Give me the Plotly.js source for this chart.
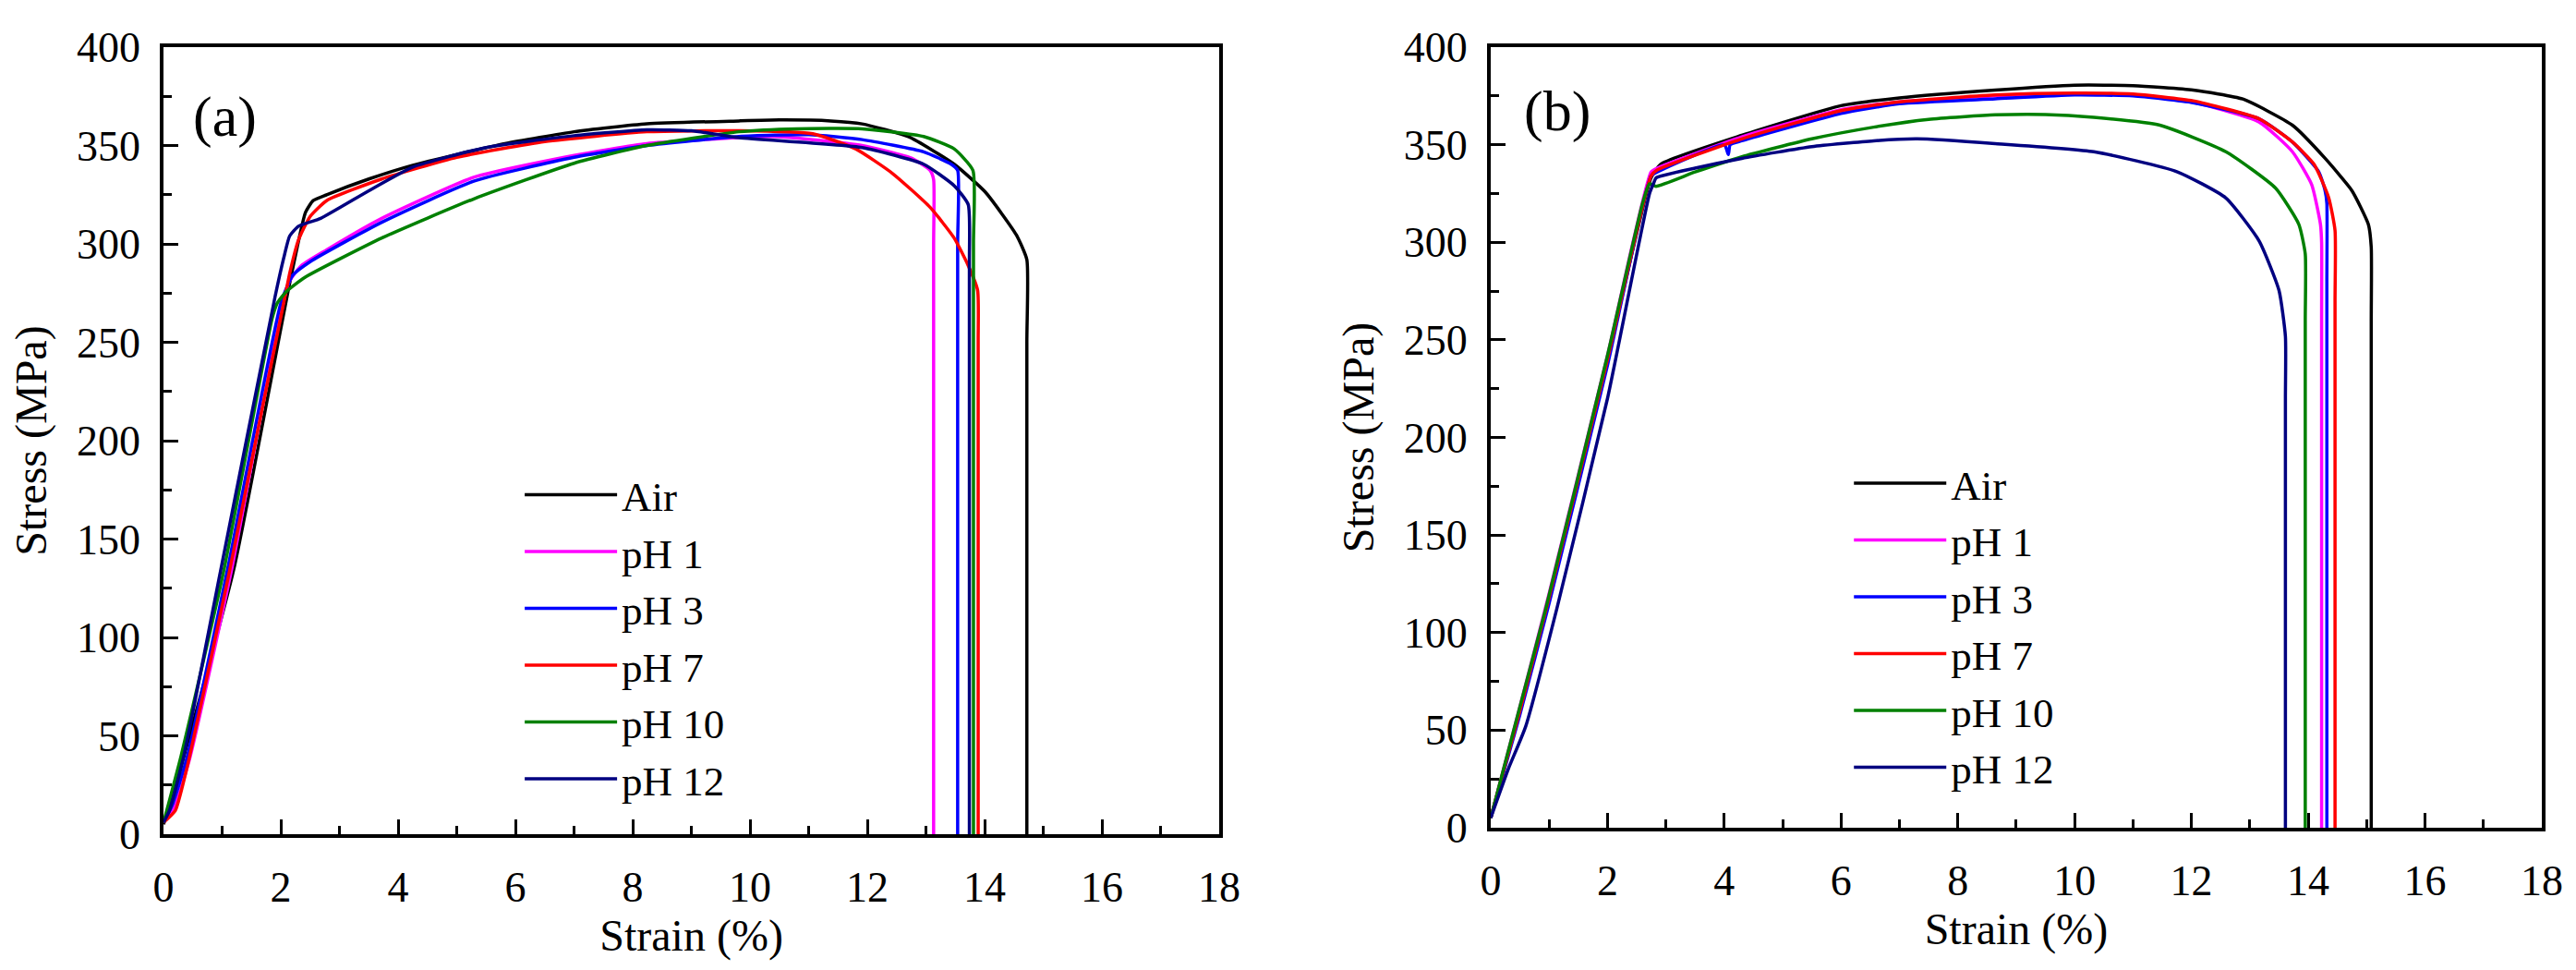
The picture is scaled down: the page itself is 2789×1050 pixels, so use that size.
<!DOCTYPE html>
<html>
<head>
<meta charset="utf-8">
<script src="https://cdn.plot.ly/plotly-3.0.1.min.js"></script>
<style>
  body { margin: 0; background: #fff; }
  #chart { width: 2789px; height: 1050px; position: relative; z-index: 1; }
  #fontwarm { position: absolute; left: 1400px; top: 500px; z-index: 0; color: #fff;
              font-family: 'Liberation Serif'; font-size: 46px; }
</style>
</head>
<body>
<div id="fontwarm">.</div>
<div id="chart"></div>
<script>
// series names and colours
var names = ['Air', 'pH 1', 'pH 3', 'pH 7', 'pH 10', 'pH 12'];
var colors = ['#000000', '#ff00ff', '#0000ff', '#ff0000', '#008000', '#000080'];

// panel (a): strain (%) and stress (MPa)
var aAirX = [0, 0.35, 1.2, 2.15, 2.42, 2.55, 2.78, 3.5, 4.25, 5.82, 7, 8.24, 9.81, 10.5, 11.38, 11.91, 12.7, 13.48, 14.01, 14.54, 14.72, 14.72, 14.72];
var aAirY = [5, 40, 135, 280, 316, 322, 325, 333, 340, 351, 357, 361, 362.5, 363, 362.5, 361, 354.5, 340.5, 326.4, 304.6, 292, 250, 0];
var aPh1X = [0, 0.2, 0.45, 1.15, 2.13, 2.35, 2.78, 3.72, 5.3, 7, 8.24, 9.81, 10.5, 11.91, 12.75, 13.07, 13.13, 13.13, 13.13];
var aPh1Y = [6, 15, 39, 133, 280, 289, 297, 313, 334, 345, 351, 354, 354.5, 350, 343.6, 337.4, 332.7, 300, 0];
var aPh3X = [0, 0.15, 0.4, 1.08, 2.0, 2.2, 2.5, 3.72, 5.3, 7, 8.24, 9.81, 11, 11.91, 12.96, 13.43, 13.54, 13.54, 13.54];
var aPh3Y = [6, 15, 39, 133, 270, 284, 291, 311, 332, 344, 350, 354.6, 355.5, 353, 346.8, 340.5, 337.4, 300, 0];
var aPh7X = [0, 0.2, 0.44, 1.12, 2.15, 2.3, 2.5, 2.78, 3.72, 5, 6.5, 8.24, 9.81, 11.07, 11.8, 12.43, 13.07, 13.48, 13.72, 13.88, 13.89, 13.89];
var aPh7Y = [6, 12, 39, 133, 285, 302, 314, 322, 333, 344, 352, 357, 357.5, 356, 348.3, 335.8, 318.6, 303, 289, 276.5, 250, 0];
var aPh10X = [0, 0.3, 1.02, 1.85, 1.94, 2.1, 2.41, 3.72, 5.3, 7, 8.24, 9.81, 10.8, 11.91, 12.96, 13.48, 13.8, 13.81, 13.81];
var aPh10Y = [6, 40, 133, 262, 270, 276, 283, 303, 323, 341, 350, 357, 358.5, 358.5, 354.6, 348.3, 337.4, 300, 0];
var aPh12X = [0, 0.1, 0.34, 0.966, 1.9, 2.05, 2.15, 2.3, 2.68, 3.5, 4.25, 5.5, 7, 8.24, 9, 9.81, 11.91, 12.96, 13.48, 13.72, 13.74, 13.74];
var aPh12Y = [6, 12, 39, 133, 273, 293, 304, 309, 313, 327, 339, 349, 355, 358, 357.5, 354, 349, 340.5, 329.6, 320, 290, 0];

// panel (b)
var bAirX = [0, 0.5, 1, 2, 2.745, 2.91, 4.3, 6, 7, 8.64, 10, 11, 12.03, 12.88, 13.73, 14.29, 14.75, 15.03, 15.08, 15.08, 15.08];
var bAirY = [5, 60, 118, 240, 333, 340, 354.8, 370, 374, 378, 380.5, 380.3, 378, 373.4, 360, 343, 326.4, 309.2, 297.4, 260, 0];
var bPh1X = [0, 0.5, 1, 2, 2.745, 2.85, 4.3, 6, 7, 8.64, 10, 11, 12.03, 13.16, 13.73, 14.06, 14.21, 14.23, 14.23, 14.23];
var bPh1Y = [5, 62, 120, 242, 336, 338, 354, 368, 372, 375, 376, 375.5, 371.7, 361.6, 346.4, 329.5, 309.2, 300, 260, 0];
var bPh3X = [0, 0.5, 1, 2, 2.745, 2.85, 4, 4.07, 4.1, 4.3, 6, 7, 8.64, 10, 11, 12.03, 13.16, 13.73, 14.18, 14.29, 14.32, 14.32, 14.32];
var bPh3Y = [5, 58, 115, 237, 334, 336, 350, 345, 350, 352, 366, 371, 373.5, 375.5, 375, 371.5, 363.3, 351.4, 336.2, 326.4, 320, 280, 0];
var bPh7X = [0, 0.5, 1, 2, 2.745, 2.85, 4.3, 6, 7, 8.64, 10, 11, 12.03, 13.16, 13.73, 14.1, 14.35, 14.46, 14.46, 14.46];
var bPh7Y = [5, 60, 118, 240, 334, 337, 353, 367.5, 372, 375.5, 376.5, 376, 372.5, 363.3, 351.4, 340, 323, 306, 270, 0];
var bPh10X = [0, 0.5, 0.94, 2, 2.6, 2.72, 2.83, 3.5, 4.3, 5.5, 6.56, 7.5, 8.64, 9.5, 10.33, 11.46, 12.59, 13.44, 13.84, 13.95, 13.95, 13.95];
var bPh10Y = [5, 62, 112, 242, 320, 330, 328.7, 336, 343.8, 353, 359, 363, 365.3, 365.5, 364, 360, 346.4, 327.8, 309.2, 294, 260, 0];
var bPh12X = [0, 0.3, 0.6, 1.13, 2, 2.72, 2.8, 2.83, 3.5, 4.3, 5.5, 6.56, 7.3, 8.64, 10.33, 11.75, 12.59, 13.16, 13.5, 13.61, 13.61, 13.61];
var bPh12Y = [5, 30, 52, 112, 220, 325, 331, 333, 338, 343, 349, 352, 353, 350.6, 346.4, 336.2, 322.7, 300.7, 275.4, 251.8, 220, 0];

var xTicks = [0, 2, 4, 6, 8, 10, 12, 14, 16, 18];
var yTicks = [0, 50, 100, 150, 200, 250, 300, 350, 400];

var panelA = [[aAirX, aAirY], [aPh1X, aPh1Y], [aPh3X, aPh3Y], [aPh7X, aPh7Y], [aPh10X, aPh10Y], [aPh12X, aPh12Y]];
var panelB = [[bAirX, bAirY], [bPh1X, bPh1Y], [bPh3X, bPh3Y], [bPh7X, bPh7Y], [bPh10X, bPh10Y], [bPh12X, bPh12Y]];

var data = [];
panelA.forEach(function (s, i) {
  data.push({
    x: s[0], y: s[1], mode: 'lines', name: names[i],
    line: { color: colors[i], width: 3.5, shape: 'spline', smoothing: 0.5 },
    xaxis: 'x', yaxis: 'y', legend: 'legend'
  });
});
panelB.forEach(function (s, i) {
  data.push({
    x: s[0], y: s[1], mode: 'lines', name: names[i],
    line: { color: colors[i], width: 3.5, shape: 'spline', smoothing: 0.5 },
    xaxis: 'x2', yaxis: 'y2', legend: 'legend2'
  });
});

function xAxis(domain, anchor) {
  return {
    domain: domain, anchor: anchor, range: [0, 18],
    tickvals: xTicks, ticks: 'inside', ticklen: 16, tickwidth: 3, tickcolor: '#000',
    minor: { ticks: 'inside', ticklen: 9, tickwidth: 3, tickcolor: '#000', dtick: 1, showgrid: false },
    showline: true, linewidth: 4, linecolor: '#000', mirror: true,
    showgrid: false, zeroline: false, ticklabelstandoff: 14,
    tickfont: { size: 46, color: '#000' },
    title: { text: 'Strain (%)', font: { size: 48, color: '#000' }, standoff: 2 }
  };
}

function yAxis(domain, anchor) {
  return {
    domain: domain, anchor: anchor, range: [0, 400],
    tickvals: yTicks, ticks: 'inside', ticklen: 16, tickwidth: 3, tickcolor: '#000',
    minor: { ticks: 'inside', ticklen: 9, tickwidth: 3, tickcolor: '#000', dtick: 25, showgrid: false },
    showline: true, linewidth: 4, linecolor: '#000', mirror: true,
    showgrid: false, zeroline: false, ticklabelstandoff: 12,
    tickfont: { size: 46, color: '#000' },
    title: { text: 'Stress (MPa)', font: { size: 48, color: '#000' }, standoff: 18 }
  };
}

function legendBox(x, y) {
  return {
    x: x, y: y, xanchor: 'left', yanchor: 'top',
    bgcolor: 'rgba(0,0,0,0)', borderwidth: 0, itemwidth: 100,
    font: { size: 45, color: '#000' },
    tracegroupgap: 0
  };
}

var layout = {
  width: 2789,
  height: 1050,
  margin: { l: 0, r: 0, t: 0, b: 0 },
  font: { family: 'Liberation Serif', size: 46 },
  paper_bgcolor: '#fff',
  plot_bgcolor: '#fff',
  xaxis: xAxis([0.0635, 0.4733], 'y'),
  yaxis: yAxis([0.14, 0.9514], 'x'),
  xaxis2: xAxis([0.5787, 0.9867], 'y2'),
  yaxis2: yAxis([0.1467, 0.9514], 'x2'),
  legend: legendBox(0.2019, 0.524),
  legend2: legendBox(0.7179, 0.536),
  annotations: [
    { text: '(a)', xref: 'x domain', yref: 'y domain', x: 0.026, y: 0.911,
      xanchor: 'left', yanchor: 'middle', showarrow: false,
      font: { size: 62, color: '#000' } },
    { text: '(b)', xref: 'x2 domain', yref: 'y2 domain', x: 0.030, y: 0.918,
      xanchor: 'left', yanchor: 'middle', showarrow: false,
      font: { size: 62, color: '#000' } }
  ]
};

Plotly.newPlot('chart', data, layout, { displayModeBar: false, staticPlot: true });
</script>
</body>
</html>
